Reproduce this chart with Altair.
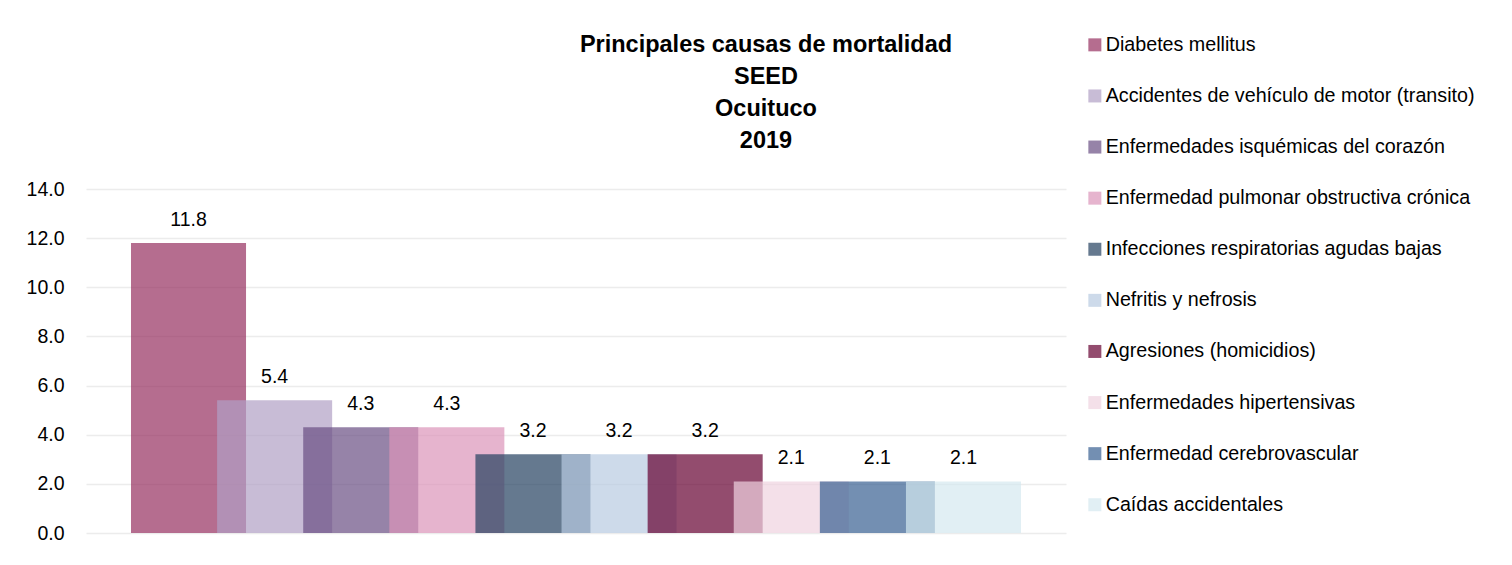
import altair as alt
import pandas as pd

causas = [
    "Diabetes mellitus",
    "Accidentes de vehículo de motor (transito)",
    "Enfermedades isquémicas del corazón",
    "Enfermedad pulmonar obstructiva crónica",
    "Infecciones respiratorias agudas bajas",
    "Nefritis y nefrosis",
    "Agresiones (homicidios)",
    "Enfermedades hipertensivas",
    "Enfermedad cerebrovascular",
    "Caídas accidentales",
]
valores = [11.8, 5.4, 4.3, 4.3, 3.2, 3.2, 3.2, 2.1, 2.1, 2.1]
colores = ["#952F60", "#B09FC4", "#6A4F83", "#DB94B9", "#24405F",
           "#B8CAE1", "#650030", "#EFD3E0", "#376092", "#D4E8EF"]
titulo = ["Principales causas de mortalidad", "SEED", "Ocuituco", "2019"]
y_ticks = [0, 2, 4, 6, 8, 10, 12, 14]

# layout of the overlapping clustered bars (in units of bar pitch)
MARGEN = 0.5226
ANCHO = 1.336
X_MAX = 2 * MARGEN + (len(causas) - 1) + ANCHO

df = pd.DataFrame({"causa": causas, "valor": valores, "orden": range(len(causas))})
df["x0"] = MARGEN + df["orden"]
df["x1"] = df["x0"] + ANCHO
df["xc"] = df["x0"] + ANCHO / 2

FONT = "Liberation Sans, Arial, sans-serif"

xs = alt.Scale(domain=[0, X_MAX], nice=False, zero=False)
ys = alt.Scale(domain=[0, 14], nice=False)

bars = alt.Chart(df).mark_bar(opacity=0.7).encode(
    x=alt.X("x0:Q", scale=xs, axis=None),
    x2="x1:Q",
    y=alt.Y("valor:Q", scale=ys, title=None,
            axis=alt.Axis(values=y_ticks, format=".1f", labelFontSize=19.5,
                          labelFont=FONT, labelColor="#000000",
                          labelPadding=22, domain=False, ticks=False,
                          grid=True, gridColor="#ECECEC", gridWidth=1.5)),
    y2=alt.datum(0),
    color=alt.Color("causa:N", sort=causas,
                    scale=alt.Scale(domain=causas, range=colores),
                    legend=alt.Legend(title=None, orient="none",
                                      legendX=999, legendY=-154,
                                      labelFont=FONT, labelFontSize=19.7,
                                      labelColor="#000000", labelLimit=600,
                                      symbolType="square", symbolSize=169,
                                      symbolStrokeWidth=0, symbolOpacity=0.7,
                                      rowPadding=30.1, labelOffset=1)),
)

labels = alt.Chart(df).mark_text(
    font=FONT, fontSize=19.5, color="#000000", baseline="alphabetic", dy=-17
).encode(
    x=alt.X("xc:Q", scale=xs),
    y=alt.Y("valor:Q", scale=ys),
    text=alt.Text("valor:Q", format=".1f"),
)

chart = (bars + labels).properties(
    width=980, height=344,
    autosize=alt.AutoSizeParams(type="none"),
    padding={"left": 78, "top": 181, "right": 438, "bottom": 24},
    title=alt.Title(titulo, font=FONT, fontSize=23.5,
                    fontWeight="bold", lineHeight=32, anchor="middle",
                    frame="group", dx=190, offset=-117, color="#000000"),
).configure_view(stroke=None)

chart.save("out.html", embed_options={"renderer": "svg", "actions": False})
